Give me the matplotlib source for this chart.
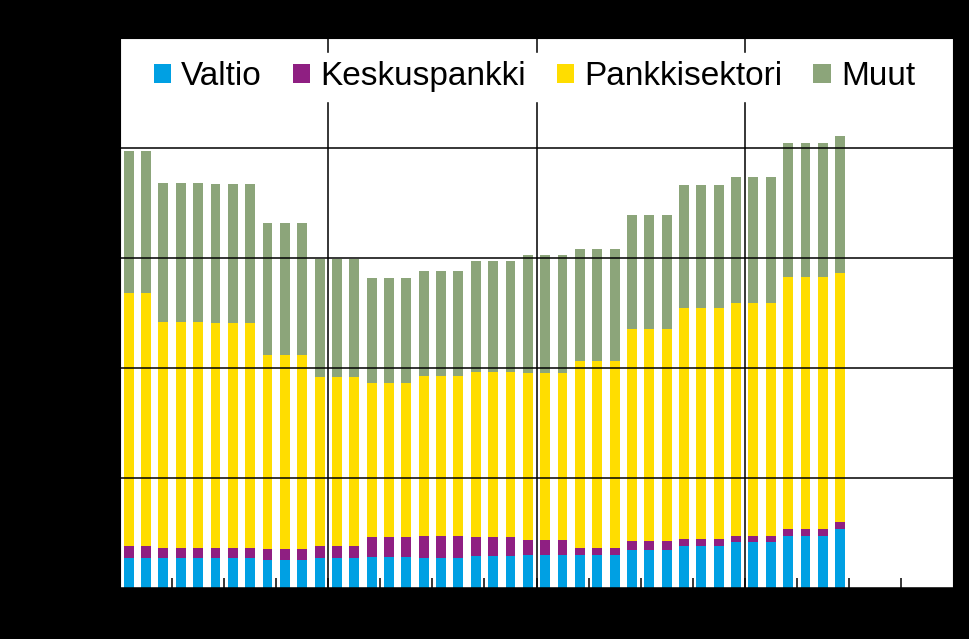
import matplotlib
matplotlib.use("Agg")
import matplotlib.pyplot as plt
import numpy as np

plt.rcParams['font.family'] = ['Liberation Sans', 'DejaVu Sans']

series_names = ["Valtio", "Keskuspankki", "Pankkisektori", "Muut"]
colors = ["#00A0E3", "#8F1F82", "#FFDD00", "#8CA57A"]

valtio = [27.5, 27.5,
          27.5, 27.5, 27.5, 27.5, 27.5, 27.5,
          25.7, 25.7, 25.7,
          27.5, 27.5, 27.5,
          28.2, 28.2, 28.2,
          27.3, 27.3, 27.3,
          29.1, 29.1, 29.1,
          30.3, 30.3, 30.3,
          30.0, 30.0, 30.0,
          34.5, 34.5, 34.5,
          38.5, 38.5, 38.5,
          41.8, 41.8, 41.8,
          47.5, 47.5, 47.5,
          53.9]
keskuspankki = [10.6, 10.6,
                8.8, 8.8, 8.8, 8.8, 8.8, 8.8,
                9.7, 9.7, 9.7,
                10.6, 10.6, 10.6,
                18.2, 18.2, 18.2,
                20.0, 20.0, 20.0,
                17.3, 17.3, 17.3,
                13.4, 13.4, 13.4,
                6.4, 6.4, 6.4,
                8.2, 8.2, 8.2,
                6.1, 6.1, 6.1,
                5.5, 5.5, 5.5,
                6.1, 6.1, 6.1,
                6.1]
pankkisektori = [230.3, 230.3,
                 205.7, 205.7, 205.7, 204.8, 204.8, 204.8,
                 176.4, 176.4, 176.4,
                 153.9, 153.9, 153.9,
                 139.7, 139.7, 139.7,
                 145.5, 145.5, 145.5,
                 150.0, 150.0, 150.0,
                 151.5, 151.5, 151.5,
                 170.0, 170.0, 170.0,
                 192.7, 192.7, 192.7,
                 210.3, 210.3, 210.3,
                 211.8, 211.8, 211.8,
                 229.1, 229.1, 229.1,
                 226.6]
muut = [128.8, 128.8,
        126.4, 126.4, 126.4, 126.1, 126.1, 126.1,
        120.0, 120.0, 120.0,
        107.0, 107.0, 107.0,
        95.7, 95.7, 95.7,
        95.5, 95.5, 95.5,
        100.9, 100.9, 100.9,
        107.5, 107.5, 107.5,
        101.8, 101.8, 101.8,
        103.6, 103.6, 103.6,
        111.5, 111.5, 111.5,
        114.5, 114.5, 114.5,
        121.8, 121.8, 121.8,
        124.3]

n_slots = 48
y_ticks = [0, 100, 200, 300, 400, 500]

W, H = 970, 639
fig = plt.figure(figsize=(W / 100, H / 100), dpi=100, facecolor="black")
ax = fig.add_axes([120 / W, (H - 588) / H, 833 / W, 550 / H])
ax.set_facecolor("white")

x = np.arange(len(valtio))
data = [valtio, keskuspankki, pankkisektori, muut]
bottom = np.zeros(len(x))
for name, vals, c in zip(series_names, data, colors):
    vals = np.array(vals)
    ax.bar(x, vals, width=0.57, bottom=bottom, color=c, label=name,
           linewidth=0, zorder=1)
    bottom += vals

ax.set_xlim(-0.5, n_slots - 0.5)
ax.set_ylim(y_ticks[0], y_ticks[-1])
ax.set_yticks(y_ticks)
ax.set_xticks([11.5, 23.5, 35.5])
ax.set_xticks(np.arange(2.5, n_slots - 1, 3), minor=True)
ax.tick_params(axis='x', which='both', direction='in', length=7, width=1.1,
               color='black', labelbottom=False)
ax.tick_params(axis='y', which='both', length=0, labelleft=False)
ax.set_axisbelow(False)
ax.grid(True, axis='y', color='black', linewidth=1.1, zorder=2)
ax.grid(True, axis='x', which='major', color='black', linewidth=1.1, zorder=2)
for s in ax.spines.values():
    s.set_color('black')

leg = ax.legend(loc='upper center', bbox_to_anchor=(0.4975, (588 - 53) / 550),
                ncol=4, fontsize=24, frameon=True, framealpha=1,
                facecolor='white', edgecolor='white', fancybox=False,
                handlelength=0.52, handleheight=0.52, handletextpad=0.3,
                columnspacing=0.93, borderpad=0.25, borderaxespad=0)
leg.set_zorder(10)

fig.savefig("out.png", dpi=100, facecolor="black")
